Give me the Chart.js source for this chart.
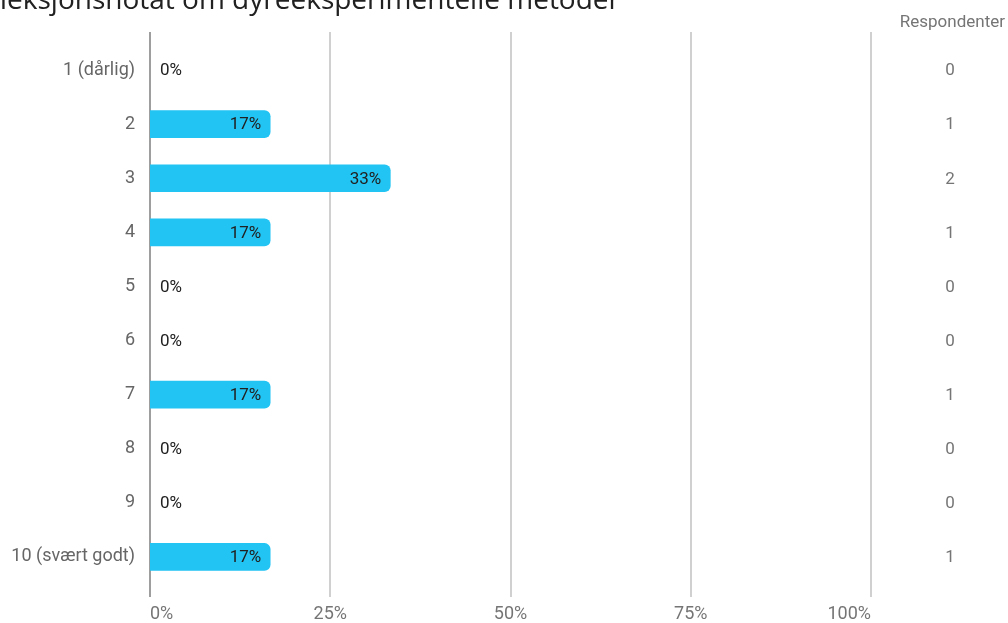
<!DOCTYPE html>
<html>
<head>
<meta charset="utf-8">
<script src="https://cdn.jsdelivr.net/npm/chart.js@4.4.1/dist/chart.umd.min.js"></script>
<style>
html,body{margin:0;padding:0;background:#fff;}
#wrap{width:1008px;height:623px;position:relative;}
</style>
</head>
<body>
<div id="wrap"><canvas id="c" width="1008" height="623"></canvas></div>
<script>
const titleText = "Refleksjonsnotat om dyreeksperimentelle metoder";
const hiddenPrefix = "Ref";
const categories = ["1 (dårlig)", "2", "3", "4", "5", "6", "7", "8", "9", "10 (svært godt)"];
const percentages = [0, 16.67, 33.33, 16.67, 0, 0, 16.67, 0, 0, 16.67];
const percentLabels = ["0%", "17%", "33%", "17%", "0%", "0%", "17%", "0%", "0%", "17%"];
const respondents = [0, 1, 2, 1, 0, 0, 1, 0, 0, 1];
const xTicks = [0, 25, 50, 75, 100];
const respondentsHeader = "Respondenter";

const gridPlugin = {
  id: 'gridPlugin',
  beforeDatasetsDraw(chart) {
    const {ctx, chartArea, scales} = chart;
    ctx.save();
    xTicks.forEach(v => {
      const x = Math.round(scales.x.getPixelForValue(v));
      ctx.strokeStyle = v === 0 ? '#9e9e9e' : '#d0d0d0';
      ctx.lineWidth = 2;
      ctx.beginPath();
      ctx.moveTo(x, chartArea.top - 11);
      ctx.lineTo(x, chartArea.bottom + 13);
      ctx.stroke();
    });
    ctx.restore();
  }
};

const labelPlugin = {
  id: 'labelPlugin',
  afterDatasetsDraw(chart) {
    const {ctx, scales} = chart;
    const meta = chart.getDatasetMeta(0);
    ctx.save();
    ctx.textBaseline = 'middle';
    meta.data.forEach((bar, i) => {
      const y = bar.y;
      ctx.font = "17px Roboto";
      ctx.fillStyle = '#212121';
      if (percentages[i] > 0) {
        ctx.textAlign = 'right';
        ctx.fillText(percentLabels[i], bar.x - 9, y + 1);
      } else {
        ctx.textAlign = 'left';
        ctx.fillText(percentLabels[i], scales.x.getPixelForValue(0) + 10, y + 1);
      }
      ctx.font = "17px Roboto";
      ctx.fillStyle = '#757575';
      ctx.textAlign = 'center';
      ctx.fillText(String(respondents[i]), 950, y + 1);
    });
    ctx.textAlign = 'right';
    ctx.font = "17px Roboto";
    ctx.fillStyle = '#757575';
    ctx.fillText(respondentsHeader, 1005, 23);

    ctx.font = "28px 'Open Sans'";
    ctx.fillStyle = '#212121';
    ctx.textAlign = 'left';
    ctx.textBaseline = 'alphabetic';
    const off = ctx.measureText(hiddenPrefix).width;
    ctx.fillText(titleText, -off, 9);
    ctx.restore();
  }
};

new Chart(document.getElementById('c'), {
  type: 'bar',
  data: {
    labels: categories,
    datasets: [{
      data: percentages,
      backgroundColor: c => (c.raw > 0 ? '#21c4f3' : 'rgba(0,0,0,0)'),
      barThickness: 27,
      borderRadius: {topLeft: 0, bottomLeft: 0, topRight: 6, bottomRight: 6},
      borderSkipped: false
    }]
  },
  options: {
    indexAxis: 'y',
    responsive: false,
    animation: false,
    devicePixelRatio: 1,
    layout: {padding: {top: 43, right: 137, left: 0, bottom: 0}},
    plugins: {legend: {display: false}, tooltip: {enabled: false}, title: {display: false}},
    scales: {
      x: {
        min: 0, max: 100,
        afterBuildTicks(scale) { scale.ticks = xTicks.map(v => ({value: v})); },
        grid: {display: false, drawTicks: false},
        border: {display: false},
        ticks: {
          color: '#757575',
          font: {family: 'Roboto', size: 18},
          padding: 20,
          align: 'inner',
          callback: v => v + '%'
        },
        afterFit(scale) { scale.height = 623 - 584; }
      },
      y: {
        grid: {display: false, drawTicks: false},
        border: {display: false},
        ticks: {
          color: '#666666',
          font: {family: 'Roboto', size: 18},
          padding: 15
        },
        afterFit(scale) { scale.width = 150; }
      }
    }
  },
  plugins: [gridPlugin, labelPlugin]
});
</script>
</body>
</html>
